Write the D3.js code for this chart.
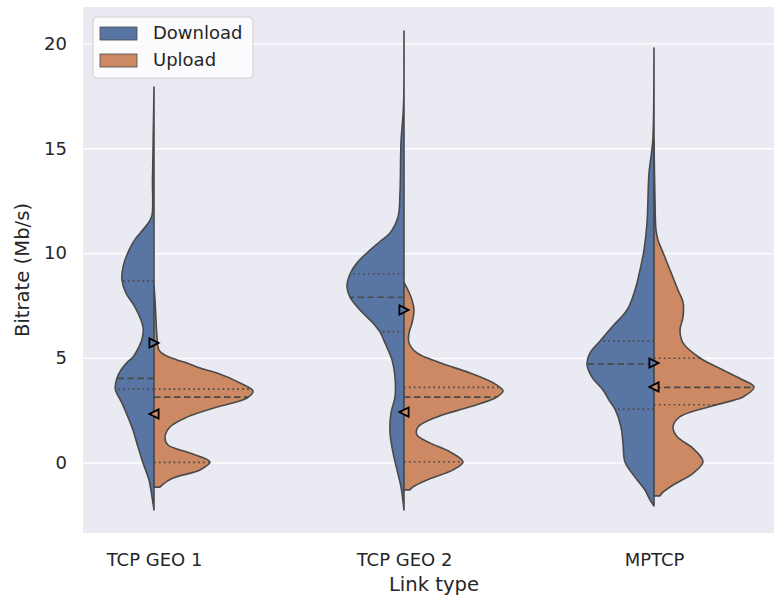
<!DOCTYPE html>
<html>
<head>
<meta charset="utf-8">
<script src="https://cdn.jsdelivr.net/npm/d3@7/dist/d3.min.js"></script>
<style>
  body { margin: 0; background: #fff; }
  svg text { font-family: "DejaVu Sans", sans-serif; fill: #262626; }
</style>
</head>
<body>
<div id="chart"></div>
<script>
// categories + series
const categories = ["TCP GEO 1", "TCP GEO 2", "MPTCP"];
const series = ["Download", "Upload"];
const yTicks = [0, 5, 10, 15, 20];

// violin profiles: [bitrate, relative density]
const geo1Download = [[17.92,0],[16.34,0.005],[14.9,0.01],[13.48,0.015],[11.81,0.02],[11.48,0.05],[11.0,0.13],[10.65,0.19],[10.14,0.25],[9.33,0.31],[8.71,0.32],[8.09,0.28],[7.42,0.19],[6.66,0.12],[6.33,0.107],[5.99,0.115],[5.71,0.133],[5.04,0.21],[4.76,0.273],[4.42,0.33],[4.04,0.37],[3.51,0.387],[2.84,0.32],[2.17,0.26],[1.55,0.21],[0.74,0.16],[-0.02,0.11],[-0.83,0.05],[-1.64,0.02],[-2.26,0]];
const geo1Upload = [[8.47,0],[7.76,0.01],[6.8,0.02],[5.99,0.03],[5.37,0.05],[5.13,0.11],[4.9,0.23],[4.75,0.33],[4.51,0.46],[4.27,0.63],[3.8,0.86],[3.42,0.99],[3.08,0.93],[2.65,0.63],[2.17,0.33],[1.7,0.16],[1.22,0.11],[0.84,0.14],[0.46,0.36],[0.03,0.56],[-0.35,0.46],[-0.74,0.19],[-1.07,0.08],[-1.17,0.06]];
const geo2Download = [[20.59,0],[17.0,0.005],[15.28,0.03],[12.89,0.04],[11.72,0.06],[10.96,0.14],[10.55,0.24],[10.14,0.34],[9.53,0.47],[9.0,0.54],[8.38,0.57],[7.9,0.54],[7.28,0.44],[6.71,0.32],[6.23,0.24],[5.71,0.19],[4.9,0.12],[4.08,0.09],[3.13,0.09],[2.37,0.13],[1.42,0.14],[0.48,0.11],[-0.35,0.07],[-1.16,0.03],[-2.26,0]];
const geo2Upload = [[8.6,0],[8.23,0.04],[7.76,0.08],[7.28,0.1],[6.66,0.08],[6.18,0.05],[5.71,0.05],[5.23,0.13],[4.76,0.36],[4.28,0.66],[3.81,0.89],[3.42,0.99],[3.13,0.93],[2.66,0.66],[2.18,0.33],[1.7,0.14],[1.32,0.13],[0.94,0.26],[0.51,0.46],[0.03,0.59],[-0.35,0.49],[-0.83,0.23],[-1.16,0.09],[-1.3,0.06]];
const mptcpDownload = [[19.78,0],[15.53,0.01],[14.77,0.025],[13.81,0.05],[11.42,0.07],[10.14,0.1],[9.19,0.14],[8.23,0.19],[7.28,0.27],[6.47,0.42],[5.8,0.54],[5.23,0.64],[4.7,0.67],[4.08,0.62],[3.46,0.51],[2.98,0.45],[2.55,0.39],[1.7,0.33],[0.94,0.31],[0.03,0.29],[-0.69,0.19],[-1.31,0.09],[-1.78,0.04],[-2.07,0]];
const mptcpUpload = [[15.39,0],[12.52,0.01],[11.09,0.02],[10.61,0.04],[10.14,0.08],[9.19,0.16],[8.23,0.24],[7.66,0.29],[6.94,0.29],[6.33,0.26],[5.71,0.29],[4.99,0.46],[4.42,0.69],[3.94,0.89],[3.61,1.0],[3.13,0.89],[2.98,0.8],[2.71,0.59],[2.19,0.26],[1.71,0.19],[1.24,0.23],[0.68,0.39],[0.04,0.49],[-0.51,0.39],[-1.07,0.19],[-1.46,0.08],[-1.59,0.06]];

// quartiles [q1, median, q3]
const downloadQuartiles = [[3.51, 4.02, 8.67], [6.25, 7.89, 9.0], [2.55, 4.7, 5.8]];
const uploadQuartiles = [[0.01, 3.12, 3.51], [0.04, 3.12, 3.59], [2.76, 3.59, 4.98]];

// means (triangle markers)
const downloadMeans = [5.71, 7.28, 4.75];
const uploadMeans = [2.32, 2.41, 3.61];

const colors = {Download: "#5975a4", Upload: "#cc8963"};
const edge = "#4a4a4a";

const W = 774, H = 599;
const plotLeft = 83, plotTop = 7, plotRight = 785, plotBottom = 533;

const svg = d3.select("#chart").append("svg")
  .attr("width", W).attr("height", H)
  .style("display", "block");

svg.append("clipPath").attr("id", "plotclip")
  .append("rect").attr("x", plotLeft).attr("y", plotTop)
  .attr("width", plotRight - plotLeft).attr("height", plotBottom - plotTop);

const x = d3.scaleLinear().domain([-0.284, 2.524]).range([plotLeft, plotRight]);
const y = d3.scaleLinear().domain([-3.36, 21.74]).range([plotBottom, plotTop]);
const halfWidth = 0.4; // density 1 -> 0.4 category units

svg.append("rect")
  .attr("x", plotLeft).attr("y", plotTop)
  .attr("width", plotRight - plotLeft).attr("height", plotBottom - plotTop)
  .attr("fill", "#eaeaf2");

// grid + y labels
const yAxis = svg.append("g")
  .attr("transform", `translate(${plotLeft},0)`)
  .call(d3.axisLeft(y).tickValues(yTicks).tickSize(-(plotRight - plotLeft)).tickPadding(16));
yAxis.select(".domain").remove();
yAxis.selectAll(".tick line").attr("stroke", "#fff").attr("stroke-width", 1.3);
yAxis.selectAll(".tick text").attr("font-size", 18).attr("fill", "#262626");

const xAxis = svg.append("g")
  .attr("transform", `translate(0,${plotBottom})`)
  .call(d3.axisBottom(x).tickValues([0, 1, 2]).tickFormat(i => categories[i]).tickSize(0).tickPadding(20));
xAxis.select(".domain").remove();
xAxis.selectAll(".tick text").attr("font-size", 18).attr("fill", "#262626");

const profiles = [
  {Download: geo1Download, Upload: geo1Upload},
  {Download: geo2Download, Upload: geo2Upload},
  {Download: mptcpDownload, Upload: mptcpUpload}
];

const densityAt = (prof, v) => {
  for (let i = 0; i < prof.length - 1; i++) {
    const a = prof[i], b = prof[i + 1];
    if (v <= a[0] && v >= b[0]) {
      const t = (a[0] - v) / (a[0] - b[0]);
      return a[1] + t * (b[1] - a[1]);
    }
  }
  return 0;
};

const plot = svg.append("g").attr("clip-path", "url(#plotclip)");

categories.forEach((cat, i) => {
  const cx = x(i);
  series.forEach(s => {
    const side = s === "Download" ? -1 : 1;
    const prof = profiles[i][s];
    const area = d3.area()
      .curve(d3.curveCatmullRom.alpha(0.5))
      .y(d => y(d[0]))
      .x0(cx)
      .x1(d => x(i + side * d[1] * halfWidth));
    plot.append("path")
      .attr("d", area(prof))
      .attr("fill", colors[s])
      .attr("stroke", edge)
      .attr("stroke-width", 1.6)
      .attr("stroke-linejoin", "round");

    const q = s === "Download" ? downloadQuartiles[i] : uploadQuartiles[i];
    q.forEach((v, k) => {
      plot.append("line")
        .attr("x1", cx)
        .attr("x2", x(i + side * densityAt(prof, v) * halfWidth))
        .attr("y1", y(v)).attr("y2", y(v))
        .attr("stroke", edge)
        .attr("stroke-width", 1.7)
        .attr("stroke-dasharray", k === 1 ? "6.5,3.5" : "1.7,3.2");
    });
  });
});

// mean markers
const r = 4.6;
const tri = dir => dir > 0
  ? `M${-r},${-r}L${r},0L${-r},${r}Z`
  : `M${r},${-r}L${-r},0L${r},${r}Z`;
categories.forEach((cat, i) => {
  plot.append("path")
    .attr("transform", `translate(${x(i)},${y(downloadMeans[i])})`)
    .attr("d", tri(1))
    .attr("fill", colors.Download)
    .attr("stroke", "#000").attr("stroke-width", 1.8);
  plot.append("path")
    .attr("transform", `translate(${x(i)},${y(uploadMeans[i])})`)
    .attr("d", tri(-1))
    .attr("fill", colors.Upload)
    .attr("stroke", "#000").attr("stroke-width", 1.8);
});

// legend
const lg = svg.append("g").attr("transform", "translate(93,17)");
lg.append("rect")
  .attr("width", 160).attr("height", 61).attr("rx", 4)
  .attr("fill", "#fff").attr("fill-opacity", 0.8)
  .attr("stroke", "#d0d0d0").attr("stroke-width", 1);
series.forEach((s, k) => {
  const row = lg.append("g").attr("transform", `translate(0,${10 + k * 27})`);
  row.append("rect")
    .attr("x", 7).attr("y", 0).attr("width", 37).attr("height", 13)
    .attr("fill", colors[s]).attr("stroke", edge).attr("stroke-width", 0.8);
  row.append("text")
    .attr("x", 60).attr("y", 12)
    .attr("font-size", 18)
    .text(s);
});

// axis titles
svg.append("text")
  .attr("x", (plotLeft + plotRight) / 2).attr("y", 591)
  .attr("text-anchor", "middle").attr("font-size", 19.6)
  .text("Link type");
svg.append("text")
  .attr("transform", `translate(29,${(plotTop + plotBottom) / 2}) rotate(-90)`)
  .attr("text-anchor", "middle").attr("font-size", 19.6)
  .text("Bitrate (Mb/s)");
</script>
</body>
</html>
